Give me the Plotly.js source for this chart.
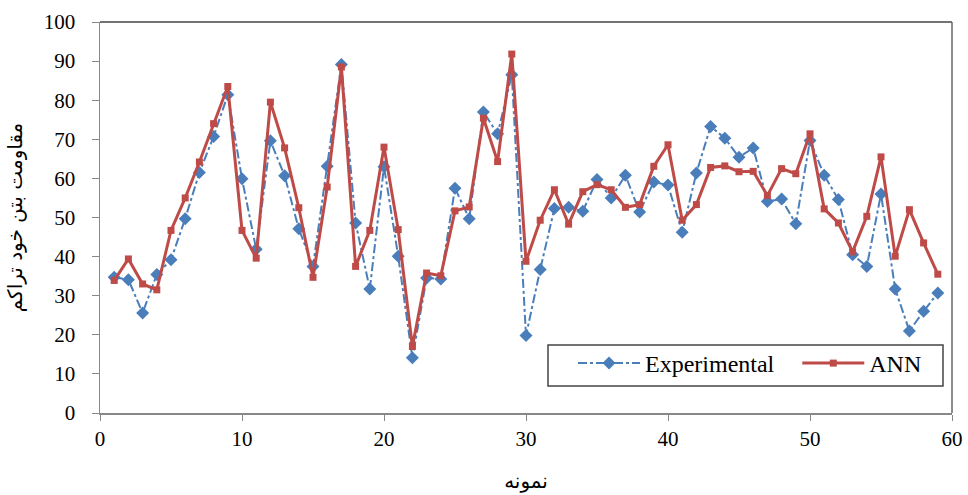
<!DOCTYPE html>
<html>
<head>
<meta charset="utf-8">
<script src="https://cdn.plot.ly/plotly-3.0.1.min.js"></script>
<style>html,body{margin:0;padding:0;background:#fff}#chart{width:968px;height:495px}</style>
</head>
<body>
<div id="chart"></div>
<script>
const samples = Array.from({length: 59}, (_, i) => i + 1);
const experimental = [34.7,34.1,25.6,35.4,39.2,49.7,61.5,70.7,81.4,59.9,
  41.9,69.6,60.7,47.1,37.5,63.1,89.1,48.6,31.7,63.0,
  40.1,14.1,34.5,34.3,57.5,49.7,77.0,71.4,86.5,19.8,
  36.7,52.3,52.6,51.6,59.7,55.0,60.8,51.4,59.1,58.3,
  46.2,61.4,73.3,70.3,65.4,67.8,54.1,54.7,48.4,69.7,
  60.8,54.6,40.5,37.5,56.0,31.7,21.0,26.0,30.7];
const ann = [33.9,39.4,33.0,31.5,46.7,55.0,64.2,74.0,83.5,46.7,
  39.6,79.5,67.8,52.5,34.7,57.8,88.5,37.5,46.7,68.0,
  46.9,17.0,35.8,35.1,51.7,52.7,75.4,64.3,91.8,38.8,
  49.3,57.1,48.3,56.6,58.4,57.1,52.6,53.3,63.1,68.6,
  49.3,53.3,62.8,63.2,61.7,61.8,55.6,62.5,61.2,71.4,
  52.2,48.6,41.2,50.3,65.5,40.1,52.0,43.5,35.5];
const xTicks = [0,10,20,30,40,50,60];
const yTicks = [0,10,20,30,40,50,60,70,80,90,100];

const serif = "Liberation Serif, Times New Roman, serif";
const arabic = "DejaVu Sans, Noto Sans, sans-serif";
const W = 968, H = 495, M = {l: 100, r: 16, t: 22, b: 82};
const pw = W - M.l - M.r, ph = H - M.t - M.b;
const px = v => (v - M.l) / pw;
const py = v => (H - M.b - v) / ph;

const traces = [
  {x: samples, y: experimental, name: "Experimental\u00a0\u00a0\u00a0", type: "scatter", mode: "lines+markers",
   line: {color: "#4A7EBB", width: 2, dash: "dashdot"},
   marker: {symbol: "diamond", size: 10, color: "#4A7EBB"}},
  {x: samples, y: ann, name: "ANN", type: "scatter", mode: "lines+markers",
   line: {color: "#BE4B48", width: 3},
   marker: {symbol: "square", size: 7, color: "#BE4B48"}}
];
const layout = {
  width: W, height: H,
  margin: M,
  paper_bgcolor: "#fff", plot_bgcolor: "#fff",
  font: {family: serif, size: 21, color: "#000"},
  showlegend: true,
  legend: {x: px(573), y: py(386), xanchor: "left", yanchor: "bottom", orientation: "h",
    bgcolor: "rgba(0,0,0,0)", borderwidth: 0, itemwidth: 62,
    font: {family: serif, size: 24, color: "#000"}},
  xaxis: {range: [0, 60], tickvals: xTicks, ticks: "outside", ticklen: 6, tickcolor: "#888",
    showline: true, linecolor: "#888", linewidth: 1.5, showgrid: false, zeroline: false,
    tickfont: {family: serif, size: 21},
    title: {text: "نمونه", font: {family: arabic, size: 20}, standoff: 24}},
  yaxis: {range: [0, 100], tickvals: yTicks, ticks: "outside", ticklen: 7, tickcolor: "#888",
    ticklabelstandoff: 12,
    showline: true, linecolor: "#888", linewidth: 1.5, showgrid: false, zeroline: false,
    tickfont: {family: serif, size: 21},
    title: {text: "مقاومت بتن خود تراکم", font: {family: arabic, size: 20}, standoff: 16}},
  shapes: [
    {type: "line", xref: "paper", yref: "paper", x0: 0, x1: 1, y0: 1, y1: 1, line: {color: "#444", width: 1.5}},
    {type: "line", xref: "paper", yref: "paper", x0: 1, x1: 1, y0: 0, y1: 1, line: {color: "#666", width: 1.5}},
    {type: "rect", xref: "paper", yref: "paper", layer: "above",
     x0: px(548), x1: px(943), y0: py(386), y1: py(345),
     fillcolor: "#fff", line: {color: "#444", width: 1.5}}
  ]
};
Plotly.newPlot("chart", traces, layout, {staticPlot: true, displayModeBar: false});
</script>
</body>
</html>
